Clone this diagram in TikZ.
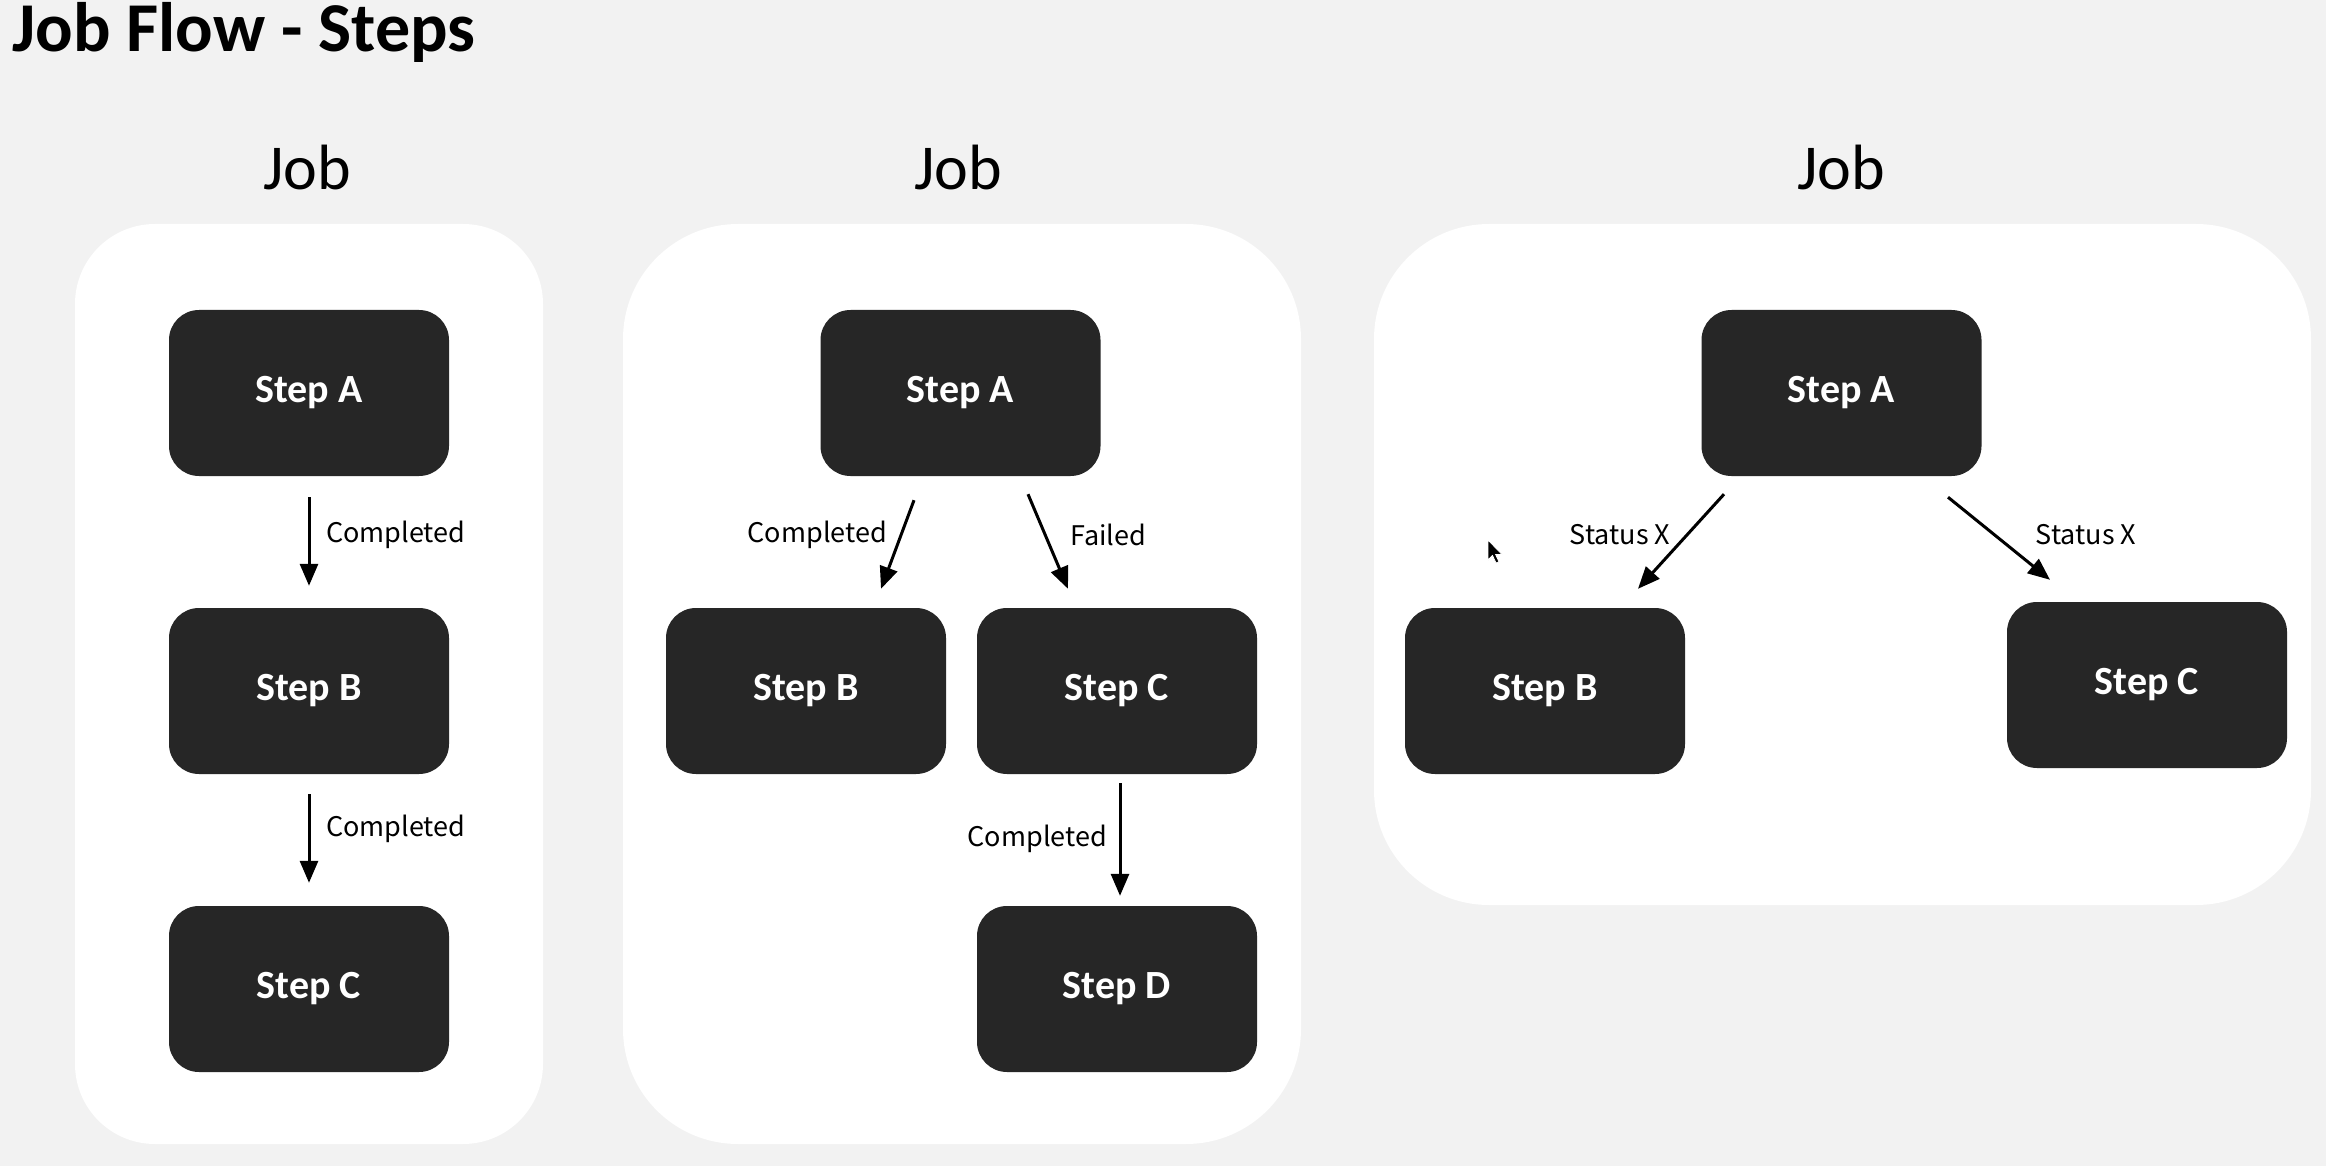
\documentclass[tikz,border=0pt]{standalone}
\usepackage{fontspec}
\setmainfont{Carlito}
\newfontfamily\lblfont{Noto Sans CJK JP}
\usetikzlibrary{arrows.meta}
\definecolor{bgc}{HTML}{F2F2F2}
\definecolor{boxc}{HTML}{262626}
\begin{document}
\begin{tikzpicture}[x=1pt,y=-1pt,
  panel/.style={fill=white, draw=none, rounded corners=#1, inner sep=0pt},
  stepbox/.style={fill=boxc, draw=none, rounded corners=30pt, minimum width=280pt, minimum height=166pt, text=white, font=\bfseries\fontsize{40}{44}\selectfont},
  arr/.style={line width=3pt, -{Triangle[length=22pt,width=18pt]}},
  lbl/.style={font=\lblfont\fontsize{27}{30}\selectfont, inner sep=0pt},
  joblbl/.style={font=\fontsize{64}{70}\selectfont, anchor=base, inner sep=0pt}]
\fill[bgc] (0,0) rectangle (2326,1166);
\useasboundingbox (0,0) rectangle (2326,1166);
% title
\node[anchor=base west, inner sep=0pt, font=\bfseries\fontsize{70}{76}\selectfont] (title) at (12,52) {Job Flow - Steps};
% panels
\node[panel=80pt, minimum width=468pt, minimum height=920pt] (p1) at (309,684) {};
\node[panel=115pt, minimum width=678pt, minimum height=920pt] (p2) at (962,684) {};
\node[panel=115pt, minimum width=937pt, minimum height=681pt] (p3) at (1842.5,564.5) {};
% job labels
\node[joblbl] (j1) at (307,190) {Job};
\node[joblbl] (j2) at (958,190) {Job};
\node[joblbl] (j3) at (1841,190) {Job};
% panel 1
\node[stepbox] (a1) at (309,393) {Step A};
\node[stepbox] (b1) at (309,691) {Step B};
\node[stepbox] (c1) at (309,989) {Step C};
\draw[arr] ([yshift=-21pt]a1.south) -- ([yshift=22pt]b1.north);
\draw[arr] ([yshift=-20pt]b1.south) -- ([yshift=23pt]c1.north);
\node[lbl, anchor=west] (l1) at (326,535) {Completed};
\node[lbl, anchor=west] (l2) at (326,829) {Completed};
% panel 2
\node[stepbox] (a2) at (960.5,393) {Step A};
\node[stepbox] (b2) at (806,691) {Step B};
\node[stepbox] (c2) at (1117,691) {Step C};
\node[stepbox] (d2) at (1117,989) {Step D};
\draw[arr] ([xshift=-46.5pt,yshift=-24pt]a2.south) -- ([xshift=75pt,yshift=19pt]b2.north);
\draw[arr] ([xshift=67.5pt,yshift=-18pt]a2.south) -- ([xshift=-49pt,yshift=19pt]c2.north);
\draw[arr] ([xshift=3pt,yshift=-9pt]c2.south) -- ([xshift=3pt,yshift=10pt]d2.north);
\node[lbl, anchor=east] (l3) at (887,535) {Completed};
\node[lbl, anchor=west] (l4) at (1070,535) {Failed};
\node[lbl, anchor=east] (l5) at (1107,839) {Completed};
% panel 3
\node[stepbox] (a3) at (1841.5,393) {Step A};
\node[stepbox] (b3) at (1545,691) {Step B};
\node[stepbox] (c3) at (2147,685) {Step C};
\draw[arr] ([xshift=-117.5pt,yshift=-18pt]a3.south) -- ([xshift=93pt,yshift=19pt]b3.north);
\draw[arr] ([xshift=106.5pt,yshift=-21pt]a3.south) -- ([xshift=-97pt,yshift=22pt]c3.north);
\node[lbl] (l6) at (1620,535) {Status X};
\node[lbl] (l7) at (2086,535) {Status X};
% mouse pointer
\filldraw[fill=black, draw=white, line width=0.8pt, shift={(1488,540)}]
  (0,0) -- (0,20) -- (4.5,15.5) -- (8,23) -- (11,21.8) -- (7.6,14.5) -- (14,14.5) -- cycle;
\end{tikzpicture}
\end{document}
